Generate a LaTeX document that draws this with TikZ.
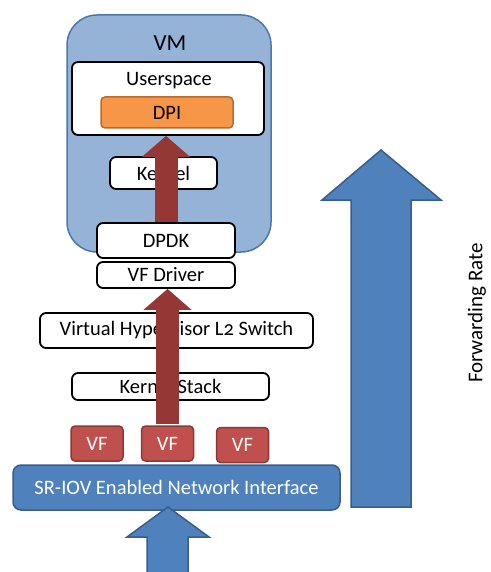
\documentclass[tikz,border=0pt]{standalone}
\usepackage{fontspec}
\setmainfont{Carlito}[Numbers=OldStyle]
\usetikzlibrary{arrows.meta}

\definecolor{vmfill}{HTML}{95B3D7}
\definecolor{vmline}{HTML}{4A77AE}
\definecolor{nicfill}{HTML}{4F81BD}
\definecolor{nicline}{HTML}{385D8A}
\definecolor{vffill}{HTML}{C0504D}
\definecolor{vfline}{HTML}{8C3836}
\definecolor{dpifill}{HTML}{F79646}
\definecolor{dpiline}{HTML}{B66D31}
\definecolor{pktred}{HTML}{953735}

\begin{document}
\begin{tikzpicture}[
    x=1pt, y=-1pt,
    vmbox/.style={rectangle, draw=vmline, line width=1.5pt, fill=vmfill, rounded corners=30pt, minimum width=204pt, minimum height=237pt},
    layer/.style={rectangle, draw=black, line width=1.8pt, fill=white, rounded corners=6pt, inner sep=0pt, text centered, font=\fontsize{20.5}{24}\selectfont},
    dpibox/.style={rectangle, draw=dpiline, line width=1.5pt, fill=dpifill, rounded corners=4pt, inner sep=0pt, minimum width=132pt, minimum height=31pt, font=\fontsize{20.5}{24}\selectfont},
    vfbox/.style={rectangle, draw=vfline, line width=1.5pt, fill=vffill, rounded corners=4pt, inner sep=0pt, minimum width=52pt, minimum height=35pt, text=white, font=\fontsize{20.5}{24}\selectfont},
    nicbox/.style={rectangle, draw=nicline, line width=1.5pt, fill=nicfill, rounded corners=8pt, inner sep=0pt, text=white, font=\fontsize{20.5}{24}\selectfont},
    pktarrow/.style={draw=pktred, line width=23pt, -{Triangle[width=47pt, length=21pt]}},
    ratearrow/.style={draw=nicline, line width=1.5pt, fill=nicfill}
  ]
    \useasboundingbox (0,0) rectangle (490,572);

    % VM
    \node[vmbox] (vm) at (169,133.5) {};
    \node[font=\fontsize{23}{26}\selectfont] (vmtitle) at (170,43) {VM};
    \node[layer, minimum width=192pt, minimum height=73pt] (user) at (168,98.5) {};
    \node[font=\fontsize{20.5}{24}\selectfont] (usertitle) at (169,81) {Userspace};
    \node[dpibox] (dpi) at (167,112.5) {DPI};
    \node[layer, minimum width=107pt, minimum height=32pt] (kernel) at (163.5,173) {Kernel};

    % Host stack
    \node[layer, minimum width=138pt, minimum height=35pt] (dpdk) at (166,240.5) {DPDK};
    \node[layer, minimum width=138pt, minimum height=26pt] (vfdrv) at (166,275) {VF Driver};
    \node[layer, minimum width=273pt, minimum height=35pt] (l2sw) at (176.5,330.5) {Virtual Hypervisor L2 Switch};
    \node[layer, minimum width=197pt, minimum height=27pt] (kstack) at (170.5,386.5) {Kernel Stack};

    % NIC
    \node[vfbox] (vf1) at (97,443.5) {VF};
    \node[vfbox] (vf2) at (167.5,443.5) {VF};
    \node[vfbox] (vf3) at (242.5,445) {VF};
    \node[nicbox, minimum width=327pt, minimum height=45pt] (sriov) at (176.5,487.5) {SR-IOV Enabled Network Interface};

    % Packet path
    \draw[pktarrow, shorten <=1pt] (vf2.north) -- (vf2.north |- vfdrv.south);
    \draw[pktarrow] (dpdk.north) -- (dpdk.north |- user.south);

    % Incoming traffic
    \coordinate (rxtip) at (168,507);
    \draw[ratearrow] (rxtip) -- ++(41,30) -- ++(-21,0) -- ++(0,40) -- ++(-41,0) -- ++(0,-40) -- ++(-20,0) -- cycle;

    % Forwarding rate
    \coordinate (ratetip) at (381,150);
    \draw[ratearrow] (ratetip) -- ++(60,50) -- ++(-30,0) -- ++(0,307) -- ++(-60,0) -- ++(0,-307) -- ++(-29,0) -- cycle;
    \node[rotate=90, font=\fontsize{21}{24}\selectfont] (fwdrate) at (477,313) {Forwarding Rate};
  \end{tikzpicture}
\end{document}
